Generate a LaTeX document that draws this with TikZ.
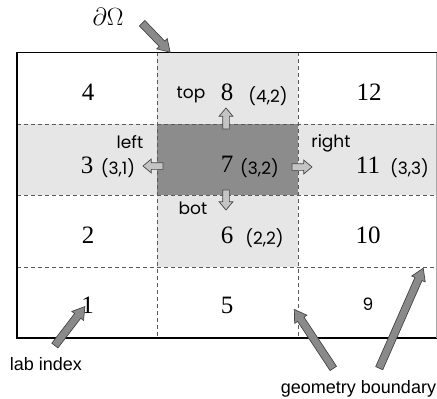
\documentclass[tikz,border=0pt]{standalone}
\usepackage{fontspec}
\setmainfont{Liberation Serif}
\newfontfamily\gothic{Poppins}
\newfontfamily\arialf{Liberation Sans}
\usetikzlibrary{calc,shapes.arrows}
\definecolor{cellgray}{HTML}{E6E6E6}
\definecolor{darkcell}{HTML}{8C8C8C}
\definecolor{dashgray}{HTML}{5A5A5A}
\definecolor{arrowfill}{HTML}{8A8A8A}
\definecolor{smallfill}{HTML}{C4C4C4}
\definecolor{arrowline}{HTML}{454545}
\tikzset{
  num/.style={anchor=base, inner sep=0pt, font=\fontsize{25}{30}\selectfont},
  idx/.style={anchor=base, inner sep=0pt, font=\gothic\fontsize{17}{20}\selectfont},
  lbl/.style={anchor=base, inner sep=0pt, font=\arialf\fontsize{18}{21}\selectfont},
  gridline/.style={dashgray, line width=0.8pt, dash pattern=on 4pt off 3pt},
  blockarrow/.style={single arrow, draw=arrowline, fill=arrowfill, line width=0.7pt, inner xsep=0pt, shape border rotate=0, single arrow tip angle=64},
  smallarrow/.style={blockarrow, fill=smallfill, single arrow tip angle=80}
}
\newcommand{\blockarr}[6]{% style, name, from, to, half shaft, head extend
  \path let \p1=($(#4)-(#3)$), \n1={veclen(\x1,\y1)}, \n2={atan2(\y1,\x1)} in
    node[#1, inner ysep=#5, single arrow head extend=#6, minimum height=\n1, rotate=\n2] (#2) at ($(#3)!0.5!(#4)$) {};}
\begin{document}
\begin{tikzpicture}[x=1pt,y=-1pt]
\useasboundingbox (0,0) rectangle (437,399);
% shading
\fill[cellgray] (17,124) rectangle (436,195);
\fill[cellgray] (157,52) rectangle (298,267);
\fill[darkcell] (157,124) rectangle (298,195);
% grid
\draw[gridline] (157,52) -- (157,338);
\draw[gridline] (298,52) -- (298,338);
\draw[gridline] (17,124) -- (436,124);
\draw[gridline] (17,195) -- (436,195);
\draw[gridline] (17,267) -- (436,267);
% border
\draw[black, line width=1.2pt] (437,52.5) -- (17,52.5) -- (17,338) -- (437,338);
\draw[gray!70, line width=0.8pt] (436,52.5) -- (436,338);
% labels
\node[num] (n4) at (88,100) {4};
\node[num] (n8) at (227,100) {8};
\node[num] (n12) at (369,100) {12};
\node[num] (n3) at (87,173) {3};
\node[num] (n7) at (227,172) {7};
\node[num] (n11) at (368,173) {11};
\node[num] (n2) at (88,243) {2};
\node[num] (n6) at (227,243) {6};
\node[num] (n10) at (368,243) {10};
\node[num] (n1) at (87.5,313) {1};
\node[num] (n5) at (227,313) {5};
\node[idx] (n9) at (368,310) {9};
\node[idx] (c8) at (268,102) {(4,2)};
\node[idx] (c3) at (118,174) {(3,1)};
\node[idx] (c7) at (259.5,174) {(3,2)};
\node[idx] (c11) at (409.5,174) {(3,3)};
\node[idx] (c6) at (264.5,244) {(2,2)};
\node[idx] (top) at (191,98) {top};
\node[idx] (left) at (130,148) {left};
\node[idx] (right) at (331,147) {right};
\node[idx] (bot) at (193,214) {bot};
\node[anchor=base, inner sep=0pt, font=\fontsize{26}{30}\selectfont] (bd) at (108,25) {$\partial\Omega$};
\node[lbl] (lab) at (46,370) {lab index};
\node[lbl] (geo) at (358.5,393) {geometry boundary};
% coordinates for arrows
\coordinate (lt) at (165,166); \coordinate (lh) at (145,166);
\coordinate (rt) at (290,167); \coordinate (rh) at (310,167);
\coordinate (ut) at (226,131); \coordinate (uh) at (226,110);
\coordinate (dt) at (226,188); \coordinate (dh) at (226,208);
\coordinate (bt) at (140,21); \coordinate (bh) at (168,50);
\coordinate (labt) at (53,348); \coordinate (labh) at (83,309);
\coordinate (g1t) at (335,371); \coordinate (g1h) at (296,312);
\coordinate (g2t) at (378,371); \coordinate (g2h) at (422,271);
% small arrows
\blockarr{smallarrow}{aleft}{lt}{lh}{3pt}{3.5pt}
\blockarr{smallarrow}{aright}{rt}{rh}{3pt}{3.5pt}
\blockarr{smallarrow}{aup}{ut}{uh}{3pt}{3.5pt}
\blockarr{smallarrow}{adown}{dt}{dh}{3pt}{3.5pt}
% long arrows
\blockarr{blockarrow}{abd}{bt}{bh}{3.5pt}{3.5pt}
\blockarr{blockarrow}{alab}{labt}{labh}{3.5pt}{3.5pt}
\blockarr{blockarrow}{ag1}{g1t}{g1h}{3.5pt}{3.5pt}
\blockarr{blockarrow}{ag2}{g2t}{g2h}{3.5pt}{3.5pt}
\end{tikzpicture}
\end{document}
